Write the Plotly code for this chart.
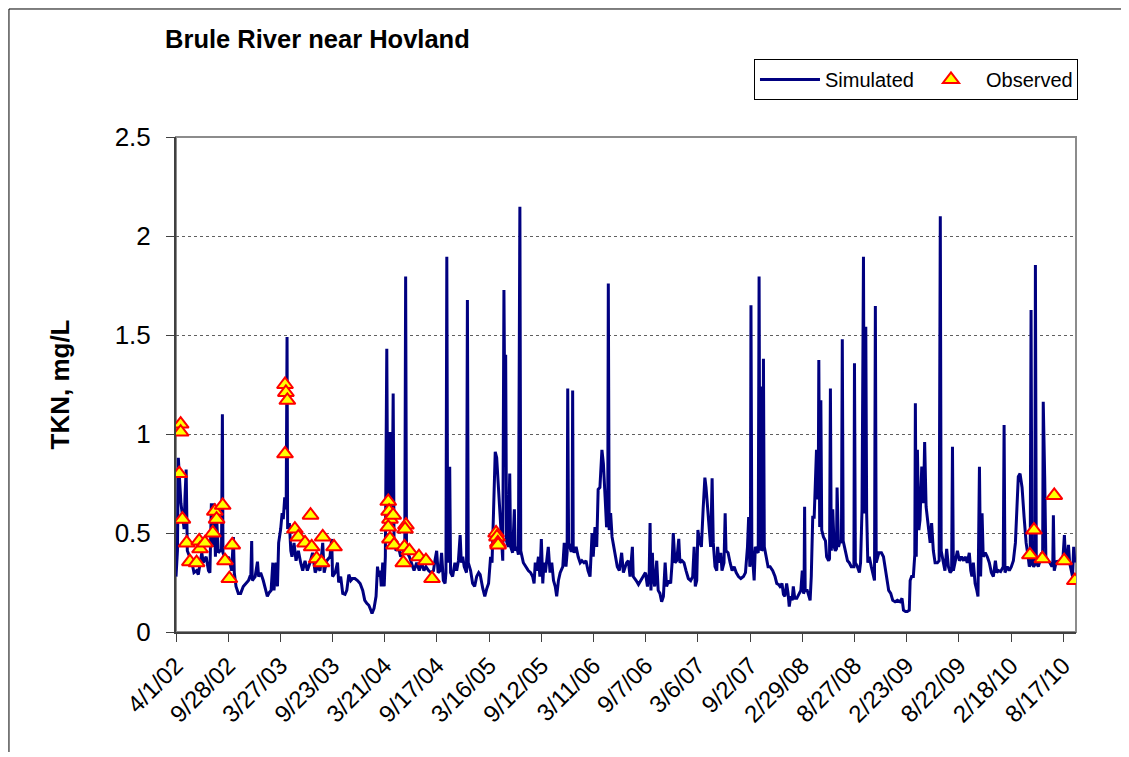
import pandas as pd
import plotly.graph_objects as go
from datetime import datetime

# ---------------- data ----------------
start_date = "2002-04-01"   # day 0 of the day offsets below

# Simulated TKN (mg/L): day offset since 4/1/02 and value
sim_day = [
    0, 5, 8, 12, 17, 23, 28, 31, 35, 39, 46, 55, 62, 71, 77, 89, 94, 104, 112, 117,
    122, 127, 131, 136, 140, 146, 152, 157, 160, 162, 173, 181, 192, 198, 201, 207, 215, 223, 232, 242,
    250, 255, 258, 261, 263, 273, 281, 285, 292, 301, 309, 315, 322, 328, 334, 338, 345, 350, 354, 361,
    366, 370, 375, 380, 383, 385, 391, 396, 400, 407, 414, 422, 430, 437, 445, 453, 462, 471, 480, 488,
    497, 506, 511,
    520, 531, 537, 540, 549, 557, 561, 568, 575, 583, 589, 596, 603, 609, 617, 626, 635, 644, 651, 658,
    665, 672, 676, 683, 690, 695, 699, 704, 708, 713, 718, 722, 727, 730, 735, 738, 742, 745, 749, 752,
    759, 767, 775, 782, 789, 792, 795, 805, 813, 821, 830, 839, 847, 855, 862, 871, 879, 888, 893, 899,
    904, 911, 916, 922, 928, 931, 934, 937, 940, 944, 947, 954, 962, 968, 974, 980, 984, 989, 994, 1002,
    1005, 1008, 1016, 1023, 1030, 1037, 1044,
    1049, 1058, 1065, 1072, 1078, 1085, 1090, 1095, 1101, 1106, 1112, 1118, 1123, 1127, 1131, 1134, 1137, 1140, 1146, 1151,
    1154, 1161, 1167, 1170, 1175, 1181, 1186, 1189, 1198, 1207, 1215, 1223, 1230, 1235, 1239, 1244, 1250, 1255, 1260, 1265,
    1269, 1274, 1279, 1284, 1290, 1296, 1302, 1308, 1313, 1319, 1325, 1334, 1339, 1345, 1349, 1351, 1354, 1362, 1366, 1368,
    1370, 1373, 1380, 1387, 1394, 1400, 1407, 1414, 1421, 1428, 1435, 1439, 1445, 1451, 1456, 1462, 1469, 1474, 1480, 1485,
    1489, 1491, 1494, 1499, 1504, 1508, 1515, 1522, 1529, 1537,
    1543, 1554, 1560, 1566, 1574, 1577, 1587, 1595, 1603, 1612, 1619, 1626, 1632, 1635, 1638, 1643, 1646, 1651, 1658, 1663,
    1669, 1675, 1681, 1687, 1692, 1699, 1706, 1711, 1715, 1721, 1727, 1734, 1738, 1745, 1752, 1759, 1767, 1775, 1782, 1787,
    1791, 1796, 1800, 1805, 1812, 1818, 1824, 1828, 1834, 1840, 1844, 1849, 1853, 1859, 1865, 1868, 1873, 1879, 1883, 1890,
    1894, 1897, 1904, 1911, 1918, 1925, 1932, 1940, 1948, 1957, 1964, 1971, 1975, 1979, 1981, 1983, 1986, 1994, 1998, 2003,
    2008, 2011, 2014, 2017, 2020, 2024, 2026, 2029, 2035, 2042,
    2049, 2058, 2066, 2072, 2078, 2083, 2090, 2095, 2100, 2106, 2111, 2115, 2120, 2125, 2129, 2134, 2141, 2148, 2155, 2160,
    2164, 2166, 2168, 2170, 2177, 2182, 2187, 2191, 2196, 2201, 2205, 2209, 2212, 2215, 2217, 2220, 2222, 2224, 2227, 2233,
    2240, 2244, 2251, 2254, 2257, 2260, 2265, 2270, 2274, 2278, 2280, 2285, 2290, 2295, 2298, 2301, 2309, 2316, 2322, 2329,
    2335, 2338, 2340, 2343, 2350, 2357, 2361, 2366, 2371, 2374, 2376, 2379, 2382, 2386, 2391, 2398, 2405, 2409, 2412, 2415,
    2424, 2433, 2440, 2445, 2451, 2458, 2465, 2472, 2480, 2488, 2497, 2504, 2509, 2516, 2522, 2529, 2532, 2537, 2543, 2548,
    2550, 2553, 2557, 2562, 2566, 2572, 2578, 2582, 2587,
    2595, 2601, 2606, 2612, 2618, 2626, 2632, 2636, 2639, 2647, 2652, 2658, 2664, 2670, 2675, 2678, 2681, 2688, 2695, 2702,
    2709, 2716, 2722, 2729, 2736, 2741, 2745, 2750, 2756, 2762, 2766, 2771, 2775, 2780, 2784, 2791, 2798, 2805, 2812, 2819,
    2826, 2831, 2837, 2844, 2851, 2853, 2856, 2859, 2867, 2874, 2881, 2888, 2895, 2899, 2905, 2911, 2918, 2925, 2932, 2939,
    2943, 2946, 2949, 2952, 2958, 2962, 2964, 2967, 2974, 2980, 2985, 2989, 2991, 2996, 3000, 3007, 3014, 3021, 3024, 3026,
    3029, 3037, 3044, 3051, 3058, 3064, 3068, 3073, 3078, 3082, 3087, 3092, 3096, 3100,
]
sim_val = [
    0.28, 0.41, 0.88, 0.75, 0.65, 0.58, 0.52, 0.68, 0.82, 0.41, 0.38, 0.35, 0.30, 0.31, 0.29, 0.40, 0.35, 0.38, 0.31, 0.30,
    0.65, 0.43, 0.65, 0.38, 0.58, 0.40, 0.41, 0.41, 1.10, 0.40, 0.36, 0.38, 0.31, 0.48, 0.30, 0.23, 0.195, 0.195, 0.23, 0.25,
    0.26, 0.28, 0.28, 0.46, 0.26, 0.28, 0.355, 0.28, 0.30, 0.26, 0.21, 0.18, 0.20, 0.21, 0.35, 0.21, 0.35, 0.23, 0.45, 0.52,
    0.60, 0.57, 0.68, 0.62, 1.49, 0.52, 0.55, 0.41, 0.38, 0.45, 0.36, 0.41, 0.35, 0.31, 0.36, 0.31, 0.35, 0.40, 0.30, 0.33,
    0.31, 0.45, 0.30,
    0.36, 0.38, 0.47, 0.28, 0.30, 0.35, 0.25, 0.28, 0.195, 0.19, 0.21, 0.29, 0.26, 0.27, 0.27, 0.26, 0.245, 0.21, 0.16, 0.145,
    0.135, 0.11, 0.094, 0.12, 0.18, 0.33, 0.28, 0.31, 0.23, 0.35, 0.23, 0.38, 1.43, 0.60, 1.01, 0.60, 1.01, 0.52, 1.205, 0.46,
    0.41, 0.43, 0.38, 0.40, 0.43, 1.795, 0.41, 0.38, 0.35, 0.31, 0.35, 0.31, 0.35, 0.31, 0.33, 0.31, 0.30, 0.31, 0.36, 0.41,
    0.30, 0.31, 0.40, 0.26, 0.245, 0.30, 1.895, 0.35, 0.40, 0.835, 0.30, 0.28, 0.35, 0.31, 0.36, 0.49, 0.35, 0.38, 0.33, 0.30,
    1.677, 0.35, 0.31, 0.245, 0.23, 0.28, 0.30,
    0.29, 0.22, 0.18, 0.22, 0.245, 0.38, 0.35, 0.60, 0.91, 0.88, 0.73, 0.62, 0.48, 0.36, 1.727, 1.10, 1.40, 0.46, 0.43, 0.80,
    0.43, 0.40, 0.62, 0.41, 0.43, 0.39, 2.148, 0.41, 0.35, 0.33, 0.31, 0.30, 0.28, 0.245, 0.35, 0.31, 0.38, 0.28, 0.47, 0.245,
    0.35, 0.30, 0.36, 0.43, 0.30, 0.35, 0.26, 0.23, 0.18, 0.26, 0.30, 0.33, 0.45, 0.33, 0.40, 1.23, 0.45, 0.41, 0.41, 1.22,
    0.42, 0.40, 0.43, 0.38, 0.35, 0.36, 0.35, 0.36, 0.31, 0.28, 0.50, 0.38, 0.53, 0.43, 0.72, 0.73, 0.92, 0.85, 0.68, 0.53,
    0.55, 1.76, 0.515, 0.60, 0.48, 0.45, 0.38, 0.33, 0.31, 0.40,
    0.30, 0.35, 0.36, 0.28, 0.43, 0.28, 0.26, 0.24, 0.26, 0.28, 0.30, 0.23, 0.30, 0.55, 0.21, 0.40, 0.28, 0.23, 0.36, 0.21,
    0.195, 0.153, 0.18, 0.35, 0.23, 0.26, 0.245, 0.35, 0.50, 0.35, 0.36, 0.47, 0.35, 0.36, 0.35, 0.31, 0.27, 0.26, 0.28, 0.43,
    0.23, 0.26, 0.515, 0.46, 0.43, 0.62, 0.78, 0.73, 0.62, 0.515, 0.43, 0.776, 0.45, 0.33, 0.31, 0.43, 0.35, 0.40, 0.31, 0.35,
    0.60, 0.41, 0.40, 0.35, 0.31, 0.33, 0.30, 0.28, 0.27, 0.28, 0.30, 0.43, 0.58, 0.33, 0.35, 1.65, 0.43, 0.26, 0.43, 0.41,
    0.40, 1.795, 0.41, 1.24, 0.41, 0.42, 1.38, 0.43, 0.38, 0.33,
    0.33, 0.31, 0.28, 0.245, 0.24, 0.23, 0.245, 0.19, 0.18, 0.245, 0.195, 0.128, 0.18, 0.16, 0.23, 0.17, 0.17, 0.19, 0.21, 0.31,
    0.195, 0.20, 0.633, 0.21, 0.21, 0.18, 0.16, 0.28, 0.58, 0.58, 0.77, 0.92, 0.67, 0.70, 1.374, 0.53, 0.55, 1.17, 0.515, 0.48,
    0.46, 0.38, 0.36, 0.37, 1.23, 0.41, 0.62, 0.43, 0.41, 0.42, 0.73, 0.43, 0.46, 0.45, 1.478, 0.46, 0.41, 0.36, 0.35, 0.33,
    0.33, 0.33, 1.357, 0.35, 0.33, 0.30, 0.35, 0.62, 1.895, 0.60, 0.62, 1.542, 0.60, 0.35, 0.38, 0.33, 0.28, 0.26, 1.646, 0.35,
    0.40, 0.40, 0.38, 0.33, 0.26, 0.21, 0.195, 0.16, 0.153, 0.16, 0.153, 0.17, 0.11, 0.103, 0.103, 0.11, 0.26, 0.28, 0.28, 0.39,
    1.155, 0.38, 0.92, 0.515, 0.566, 0.835, 0.65, 0.96, 0.633,
    0.515, 0.45, 0.55, 0.41, 0.35, 0.35, 0.36, 2.10, 0.41, 0.35, 0.31, 0.42, 0.33, 0.30, 0.31, 0.936, 0.31, 0.36, 0.41, 0.36,
    0.38, 0.36, 0.38, 0.35, 0.40, 0.31, 0.28, 0.35, 0.245, 0.21, 0.18, 0.835, 0.28, 0.60, 0.38, 0.40, 0.38, 0.35, 0.30, 0.28,
    0.36, 0.30, 0.31, 0.305, 0.33, 0.33, 1.045, 0.30, 0.33, 0.31, 0.33, 0.36, 0.45, 0.60, 0.785, 0.80, 0.73, 0.58, 0.45, 0.38,
    0.33, 0.34, 1.626, 0.35, 0.33, 0.34, 1.853, 0.35, 0.33, 0.36, 0.40, 0.38, 1.163, 0.785, 0.38, 0.36, 0.35, 0.33, 0.34, 0.59,
    0.31, 0.36, 0.35, 0.36, 0.35, 0.49, 0.36, 0.36, 0.44, 0.35, 0.31, 0.28, 0.43, 0.35,
]

# Observed TKN (mg/L): day offset since 4/1/02 and value
obs_day = [
    11, 16, 16, 22, 37, 48, 71, 80, 83, 100, 127, 134, 140, 161, 169, 184, 194,
    376, 376, 379, 384, 410, 422, 445, 464, 468, 485, 502, 506, 545,
    732, 735, 738, 732, 738, 749, 752, 793, 790, 784, 788, 805, 838, 862, 883,
    1104, 1107, 1110, 1111,
    2945, 2959, 2988, 3029, 3063, 3100,
]
obs_val = [
    0.80, 1.05, 1.01, 0.57, 0.45, 0.355, 0.35, 0.46, 0.42, 0.45, 0.50, 0.61, 0.57, 0.64, 0.36, 0.27, 0.44,
    0.90, 1.25, 1.21, 1.17, 0.52, 0.48, 0.45, 0.59, 0.43, 0.37, 0.35, 0.48, 0.43,
    0.66, 0.61, 0.57, 0.53, 0.47, 0.59, 0.44, 0.54, 0.52, 0.35, 0.43, 0.41, 0.38, 0.36, 0.27,
    0.50, 0.48, 0.45, 0.44,
    0.39, 0.515, 0.37, 0.69, 0.36, 0.26,
]

tick_labels = ["4/1/02", "9/28/02", "3/27/03", "9/23/03", "3/21/04", "9/17/04",
               "3/16/05", "9/12/05", "3/11/06", "9/7/06", "3/6/07", "9/2/07",
               "2/29/08", "8/27/08", "2/23/09", "8/22/09", "2/18/10", "8/17/10"]
y_ticks = [0, 0.5, 1, 1.5, 2, 2.5]
y_tick_labels = ["0", "0.5", "1", "1.5", "2", "2.5"]
x_range = ["2002-04-01", "2010-09-30"]

# ---------------- build ----------------
t0 = pd.Timestamp(start_date)
sim_x = t0 + pd.to_timedelta(sim_day, unit="D")
obs_x = t0 + pd.to_timedelta(obs_day, unit="D")
tick_dates = [datetime.strptime(s, "%m/%d/%y") for s in tick_labels]

FONT = "Liberation Sans, Arial, sans-serif"

fig = go.Figure()
fig.add_trace(go.Scatter(
    x=sim_x, y=sim_val, mode="lines", name="Simulated",
    line=dict(color="#000080", width=3),
))
fig.add_trace(go.Scatter(
    x=obs_x, y=obs_val, mode="markers", name="Observed",
    marker=dict(symbol="triangle-up", size=14, color="#FFFF00",
                line=dict(color="#FF0000", width=2)),
))

# page has an 8px body margin, so the figure is sized to end at the window edge
fig.update_layout(
    width=1121, height=749,
    margin=dict(l=168, r=53, t=129, b=125),
    paper_bgcolor="white", plot_bgcolor="white",
    font=dict(family=FONT, color="black"),
    title=dict(text="<b>Brule River near Hovland</b>",
               font=dict(family=FONT, size=25.5, color="black"),
               x=0.1401, xref="container", xanchor="left",
               y=0.9586, yref="container", yanchor="middle"),
    legend=dict(orientation="h", x=0.6422, y=1.1576, xanchor="left", yanchor="top",
                font=dict(family=FONT, size=20, color="black"),
                bordercolor="black", borderwidth=1, bgcolor="white",
                itemwidth=60, entrywidth=86),
    showlegend=True,
)

fig.update_xaxes(
    type="date", range=x_range, tickvals=tick_dates, ticktext=tick_labels,
    tickangle=-45, tickfont=dict(family=FONT, size=24, color="black"),
    showgrid=False, zeroline=False,
    showline=True, linecolor="#404040", linewidth=2,
    ticks="outside", ticklen=8, tickcolor="#404040", tickwidth=1,
    automargin=False,
)
fig.update_yaxes(
    range=[0, 2.5], tickvals=y_ticks, ticktext=y_tick_labels,
    tickfont=dict(family=FONT, size=26, color="black"),
    showgrid=True, gridcolor="#606060", gridwidth=1, griddash="dot",
    zeroline=False,
    showline=True, linecolor="#404040", linewidth=2,
    ticks="outside", ticklen=8, tickcolor="#404040", tickwidth=1,
    ticklabelstandoff=10,
    title=dict(text="<b>TKN, mg/L</b>", font=dict(family=FONT, size=26, color="black"),
               standoff=38),
    automargin=False,
)

# plot-area border (grey) and partial outer chart frame
fig.add_shape(type="rect", xref="paper", yref="paper", x0=0, y0=0, x1=1, y1=1,
              line=dict(color="#8c8c8c", width=2), layer="below")
fig.add_shape(type="line", xref="paper", yref="paper", x0=-0.1856, x1=1.06, y0=1.2586, y1=1.2586,
              line=dict(color="black", width=1))
fig.add_shape(type="line", xref="paper", yref="paper", x0=-0.1856, x1=-0.1856, y0=1.2586, y1=-0.2424,
              line=dict(color="black", width=1))

fig.write_html("out.html")
